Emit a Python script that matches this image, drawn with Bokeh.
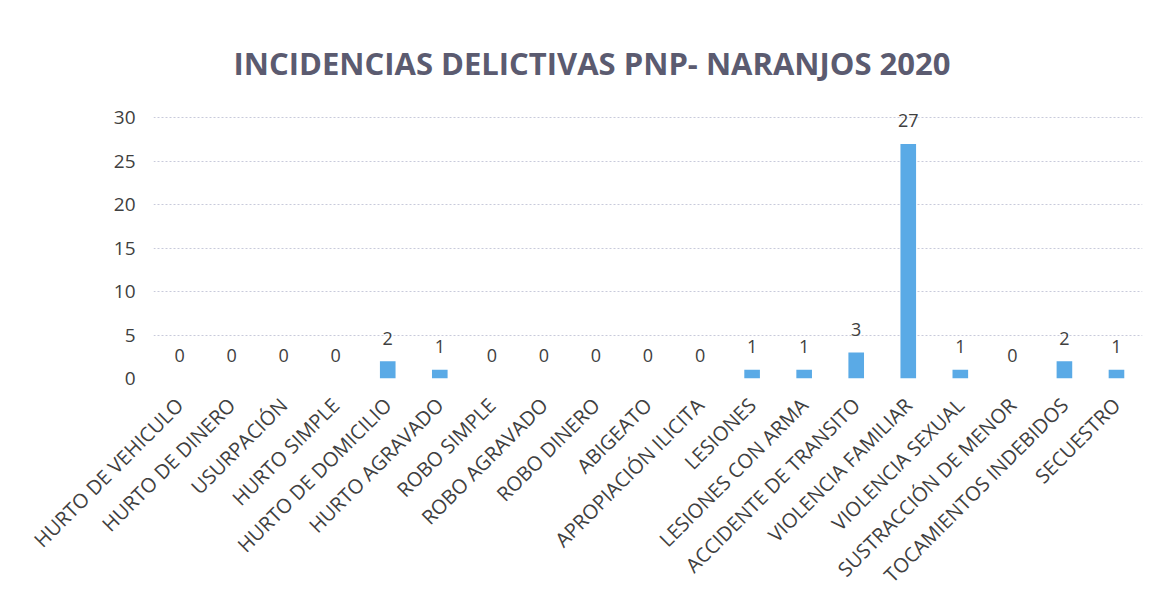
import math
from bokeh.plotting import figure
from bokeh.models import ColumnDataSource, LabelSet, Range1d, FixedTicker, Title
from bokeh.core.properties import value
from bokeh.embed import file_html
from bokeh.resources import INLINE

categories = ["HURTO DE VEHICULO", "HURTO DE DINERO", "USURPACIÓN", "HURTO SIMPLE",
              "HURTO DE DOMICILIO", "HURTO AGRAVADO", "ROBO SIMPLE", "ROBO AGRAVADO",
              "ROBO DINERO", "ABIGEATO", "APROPIACIÓN ILICITA", "LESIONES",
              "LESIONES CON ARMA", "ACCIDENTE DE TRANSITO", "VIOLENCIA FAMILIAR",
              "VIOLENCIA SEXUAL", "SUSTRACCIÓN DE MENOR", "TOCAMIENTOS INDEBIDOS", "SECUESTRO"]
values = [0, 0, 0, 0, 2, 1, 0, 0, 0, 0, 0, 1, 1, 3, 27, 1, 0, 2, 1]
y_ticks = [0, 5, 10, 15, 20, 25, 30]
title_text = "INCIDENCIAS DELICTIVAS PNP- NARANJOS 2020"

FONT = "Open Sans"
TXT = "#404040"

src = ColumnDataSource(dict(cat=categories, val=values, lab=[str(v) for v in values]))

p = figure(x_range=categories, y_range=Range1d(0, 32), width=1145, height=600,
           output_backend="svg", toolbar_location=None,
           min_border_left=153, min_border_right=3, min_border_top=100, min_border_bottom=222)

p.vbar(x="cat", top="val", width=0.3, source=src, fill_color="#5aaae6", line_color=None)

labels = LabelSet(x="cat", y="val", text="lab", source=src, y_offset=23,
                  text_align="center", text_baseline="middle",
                  text_font=value(FONT), text_font_size=value("18px"), text_color=TXT)
p.add_layout(labels)

p.yaxis.ticker = FixedTicker(ticks=y_ticks)
p.yaxis.axis_line_color = None
p.yaxis.major_tick_line_color = None
p.yaxis.minor_tick_line_color = None
p.yaxis.major_label_text_font = FONT
p.yaxis.major_label_text_font_size = "19px"
p.yaxis.major_label_text_color = TXT
p.yaxis.major_label_standoff = 12

p.xaxis.axis_line_color = None
p.xaxis.major_tick_line_color = None
p.xaxis.major_label_orientation = math.pi / 4
p.xaxis.major_label_text_font = FONT
p.xaxis.major_label_text_font_size = "20px"
p.xaxis.major_label_text_color = TXT
p.xaxis.major_label_standoff = 17

p.xgrid.grid_line_color = None
p.ygrid.ticker = FixedTicker(ticks=y_ticks)
p.ygrid.grid_line_color = "#c8cadb"
p.ygrid.grid_line_dash = "2 2"
p.ygrid.grid_line_width = 1

p.outline_line_color = None
p.background_fill_color = "white"
p.border_fill_color = "white"

t = Title(text=title_text, align="left", offset=80, text_font=FONT,
          text_font_size="31px", text_font_style="bold", text_color="#5b5b70",
          standoff=34)
p.add_layout(t, "above")

open("out.html", "w").write(file_html(p, INLINE))
